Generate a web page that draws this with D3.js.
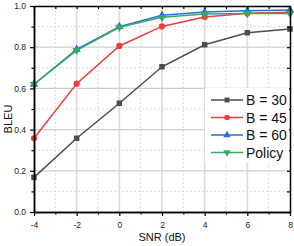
<!DOCTYPE html>
<meta charset="utf-8">
<script src="https://d3js.org/d3.v7.min.js"></script>
<style>
  body { margin: 0; background: #fff; }
  text { font-family: "Liberation Sans", Arial, sans-serif; }
</style>
<div id="my_dataviz"></div>
<script>

// data
var snr = [-4, -2, 0, 2, 4, 6, 8];
var b30 = [0.168, 0.358, 0.528, 0.705, 0.812, 0.870, 0.888];
var b45 = [0.358, 0.623, 0.806, 0.901, 0.947, 0.965, 0.970];
var b60 = [0.620, 0.790, 0.900, 0.955, 0.971, 0.977, 0.980];
var policy = [0.620, 0.785, 0.897, 0.945, 0.961, 0.964, 0.964];
var seriesNames = ["B = 30", "B = 45", "B = 60", "Policy"];
var xTicks = [-4, -2, 0, 2, 4, 6, 8];
var yTicks = [0, 0.2, 0.4, 0.6, 0.8, 1.0];

var series = [
  {name: seriesNames[0], values: b30, color: "#4d4d4d", symbol: d3.symbolSquare, rot: 0},
  {name: seriesNames[1], values: b45, color: "#f23b3b", symbol: d3.symbolCircle, rot: 0},
  {name: seriesNames[2], values: b60, color: "#2a6fdb", symbol: d3.symbolTriangle, rot: 0},
  {name: seriesNames[3], values: policy, color: "#35a865", symbol: d3.symbolTriangle, rot: 180}
];

var margin = {top: 6, right: 4, bottom: 34, left: 34},
    width = 294 - margin.left - margin.right,
    height = 246 - margin.top - margin.bottom;

var svg = d3.select("#my_dataviz")
  .append("svg")
    .attr("width", 294)
    .attr("height", 246)
  .append("g")
    .attr("transform", "translate(" + margin.left + "," + margin.top + ")");

var x = d3.scaleLinear().domain([-4, 8]).range([0, width]);
var y = d3.scaleLinear().domain([0, 1]).range([height, 0]);

// minor grid
var xMinor = d3.range(-3, 8, 2);
var yMinor = d3.range(0.1, 1, 0.2);
svg.selectAll(".gx-minor").data(xMinor).enter().append("line")
    .attr("x1", d => x(d)).attr("x2", d => x(d))
    .attr("y1", 0).attr("y2", height)
    .attr("stroke", "#dcdcdc").attr("stroke-dasharray", "2,2");
svg.selectAll(".gy-minor").data(yMinor).enter().append("line")
    .attr("y1", d => y(d)).attr("y2", d => y(d))
    .attr("x1", 0).attr("x2", width)
    .attr("stroke", "#dcdcdc").attr("stroke-dasharray", "2,2");

// major grid
svg.selectAll(".gx").data(xTicks.slice(1, -1)).enter().append("line")
    .attr("x1", d => x(d)).attr("x2", d => x(d))
    .attr("y1", 0).attr("y2", height)
    .attr("stroke", "#dedede").attr("stroke-width", 1.8);
svg.selectAll(".gy").data(yTicks.slice(1, -1)).enter().append("line")
    .attr("y1", d => y(d)).attr("y2", d => y(d))
    .attr("x1", 0).attr("x2", width)
    .attr("stroke", "#cfcfcf").attr("stroke-width", 1.2);

// lines + markers
var line = d3.line()
    .x(function(d, i) { return x(snr[i]); })
    .y(function(d) { return y(d); });

series.forEach(function(s) {
  svg.append("path")
      .datum(s.values)
      .attr("fill", "none")
      .attr("stroke", s.color)
      .attr("stroke-width", 1.5)
      .attr("d", line);
  svg.selectAll(null)
      .data(s.values)
      .enter()
      .append("path")
        .attr("d", d3.symbol().type(s.symbol).size(30))
        .attr("transform", function(d, i) { return "translate(" + x(snr[i]) + "," + y(d) + ") rotate(" + s.rot + ")"; })
        .attr("fill", s.color);
});

// axes
var axStyle = function(g) {
  g.select(".domain").attr("stroke", "#000").attr("stroke-width", 1.5);
  g.selectAll(".tick line").attr("stroke", "#000").attr("stroke-width", 1.2);
  g.selectAll(".tick text").style("font-size", "8.5px").attr("fill", "#222");
};

svg.append("g")
    .attr("transform", "translate(0," + height + ")")
    .call(d3.axisBottom(x).tickValues(xTicks).tickFormat(d => String(d)).tickSize(4).tickSizeOuter(0).tickPadding(6))
    .call(axStyle);
svg.append("g")
    .attr("transform", "translate(0," + height + ")")
    .call(d3.axisBottom(x).tickValues(xMinor).tickFormat("").tickSize(2.5).tickSizeOuter(0))
    .call(axStyle);
svg.append("g")
    .call(d3.axisLeft(y).tickValues(yTicks).tickFormat(d3.format(".1f")).tickSize(4).tickSizeOuter(0).tickPadding(4))
    .call(axStyle);
svg.append("g")
    .call(d3.axisLeft(y).tickValues(yMinor).tickFormat("").tickSize(2.5).tickSizeOuter(0))
    .call(axStyle);
// top and right, ticks inward
svg.append("g")
    .call(d3.axisBottom(x).tickValues(xTicks.concat(xMinor)).tickFormat("").tickSize(3).tickSizeOuter(0))
    .call(axStyle);
svg.append("g")
    .attr("transform", "translate(" + width + ",0)")
    .call(d3.axisLeft(y).tickValues(yTicks.concat(yMinor)).tickFormat("").tickSize(3).tickSizeOuter(0))
    .call(axStyle);

// legend
var legend = svg.append("g").attr("transform", "translate(" + (width - 85) + ",82)");
legend.append("rect")
    .attr("x", 0).attr("y", 0)
    .attr("width", 84).attr("height", 75)
    .attr("fill", "#fff");
series.forEach(function(s, i) {
  var row = legend.append("g").attr("transform", "translate(6," + (12 + i * 17.5) + ")");
  row.append("line")
      .attr("x1", 0).attr("x2", 32)
      .attr("stroke", s.color).attr("stroke-width", 1.5);
  row.append("path")
      .attr("d", d3.symbol().type(s.symbol).size(24))
      .attr("transform", "translate(16,0) rotate(" + s.rot + ")")
      .attr("fill", s.color);
  row.append("text")
      .attr("x", 35)
      .attr("dy", "0.36em")
      .style("font-size", "14px")
      .attr("fill", "#111")
      .text(s.name);
});

// axis labels
svg.append("text")
    .attr("text-anchor", "middle")
    .attr("x", width / 2)
    .attr("y", height + 29)
    .style("font-size", "11px")
    .attr("fill", "#111")
    .text("SNR (dB)");

svg.append("text")
    .attr("text-anchor", "middle")
    .attr("transform", "translate(" + (-margin.left + 12) + "," + (height / 2 + 10) + ") rotate(-90)")
    .style("font-size", "11px")
    .attr("fill", "#111")
    .text("BLEU");

</script>
